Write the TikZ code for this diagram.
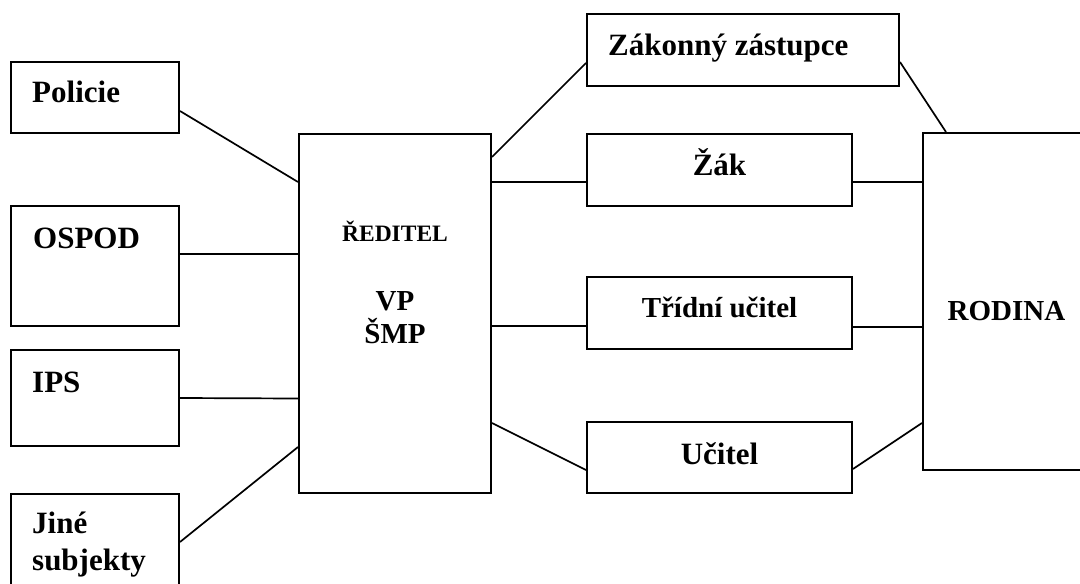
\documentclass[tikz,border=0pt]{standalone}
\usepackage{fontspec}
\setmainfont{Liberation Serif}
\usetikzlibrary{positioning,calc}

\begin{document}
\begin{tikzpicture}[
    x=1pt, y=-1pt,
    box/.style={draw, line width=2pt, inner sep=0pt},
    link/.style={line width=1.7pt},
    lbl/.style={inner sep=0pt, font=\bfseries\fontsize{31}{37}\selectfont},
    lblsmall/.style={inner sep=0pt, font=\bfseries\fontsize{29}{35}\selectfont}
]
\useasboundingbox (0,0) rectangle (1080,584);

% Left side: outside subjects
\node[box, minimum width=168pt, minimum height=71pt] (pol) at (95,97.5) {};
\node[box, minimum width=168pt, minimum height=120pt] (osp) at (95,266) {};
\node[box, minimum width=168pt, minimum height=96pt] (ips) at (95,398) {};
\node[box, minimum width=168pt, minimum height=96pt] (jin) at (95,542) {};
\node[lbl, anchor=base west] (polt) at (32,102) {Policie};
\node[lbl, anchor=base west] (ospt) at (33,248) {OSPOD};
\node[lbl, anchor=base west] (ipst) at (32,392) {IPS};
\node[lbl, anchor=base west] (jint) at (32,533) {Jiné};
\node[lbl, anchor=base west] (jint2) at (32,570) {subjekty};

% School
\node[box, minimum width=192pt, minimum height=359pt] (ctr) at (395,313.5) {};
\node[inner sep=0pt, anchor=base, font=\bfseries\fontsize{23.5}{28}\selectfont] (ctrt) at (395,241) {ŘEDITEL};
\node[lblsmall, anchor=base] (vpt) at (395,310) {VP};
\node[lblsmall, anchor=base] (smpt) at (395,343) {ŠMP};

% Middle column
\node[box, minimum width=312pt, minimum height=72pt] (zas) at (743,50) {};
\node[box, minimum width=265pt, minimum height=72pt] (zak) at (719.5,170) {};
\node[box, minimum width=265pt, minimum height=72pt] (tri) at (719.5,313) {};
\node[box, minimum width=265pt, minimum height=71pt] (uci) at (719.5,457.5) {};
\node[lbl, anchor=base west] (zast) at (608,55) {Zákonný zástupce};
\node[lbl, anchor=base] (zakt) at (719.5,175) {Žák};
\node[lblsmall, anchor=base] (trit) at (719.5,317) {Třídní učitel};
\node[lbl, anchor=base] (ucit) at (719.5,464) {Učitel};

% Family
\node[box, minimum width=167pt, minimum height=337pt] (rod) at (1006.5,301.5) {};
\node[lblsmall, anchor=base] (rodt) at (1006.5,320) {RODINA};

% Links to the school
\draw[link] ($(pol.east)+(0,13.5)$) -- ($(ctr.west)+(0,-131.5)$);
\draw[link] ($(osp.east)+(0,-12)$) -- ($(ctr.west)+(0,-59.5)$);
\draw[link] (ips.east) -- ($(ctr.west)+(0,85)$);
\draw[link] (jin.east) -- ($(ctr.west)+(0,133.5)$);
\draw[link] ($(ctr.east)+(0,-156.5)$) -- ($(zas.west)+(0,13)$);
\draw[link] ($(ctr.east)+(0,-131.5)$) -- ($(zak.west)+(0,12)$);
\draw[link] ($(ctr.east)+(0,12.5)$) -- ($(tri.west)+(0,13)$);
\draw[link] ($(ctr.east)+(0,109.5)$) -- ($(uci.west)+(0,12.5)$);

% Links to the family
\draw[link] ($(zas.east)+(0,12)$) -- ($(rod.north west)+(24,0)$);
\draw[link] ($(zak.east)+(0,12)$) -- ($(rod.west)+(0,-119.5)$);
\draw[link] ($(tri.east)+(0,14)$) -- ($(rod.west)+(0,25.5)$);
\draw[link] ($(uci.east)+(0,11.5)$) -- ($(rod.west)+(0,121.5)$);
\end{tikzpicture}
\end{document}
